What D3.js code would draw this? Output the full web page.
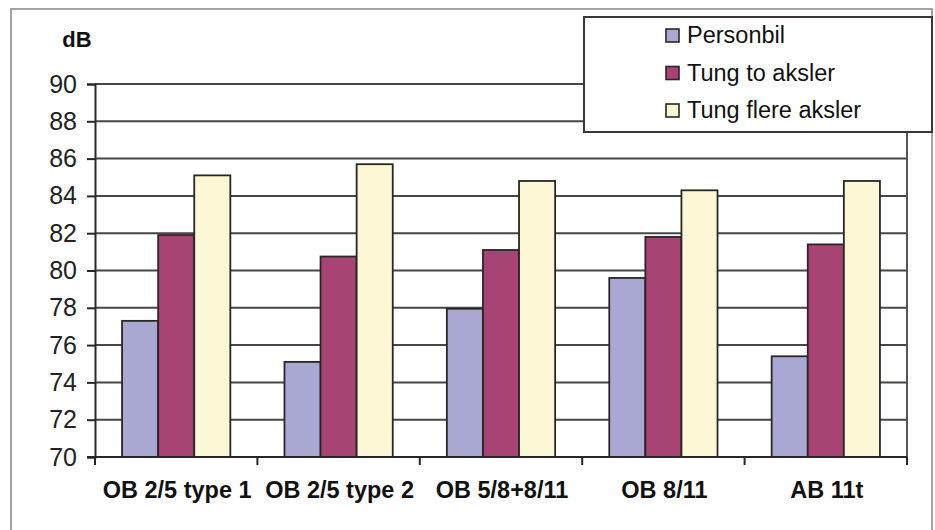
<!DOCTYPE html>
<html>
<head>
<meta charset="utf-8">
<script src="https://cdn.jsdelivr.net/npm/d3@7/dist/d3.min.js"></script>
<style>
  html, body { margin: 0; padding: 0; background: #fff; }
  svg { display: block; font-family: "Liberation Sans", Arial, sans-serif; }
</style>
</head>
<body>
<svg id="chart" width="935" height="530"></svg>
<script>
const categories = ["OB 2/5 type 1", "OB 2/5 type 2", "OB 5/8+8/11", "OB 8/11", "AB 11t"];
const seriesNames = ["Personbil", "Tung to aksler", "Tung flere aksler"];
const personbil = [77.3, 75.1, 77.95, 79.6, 75.4];
const tungTo = [81.9, 80.75, 81.1, 81.8, 81.4];
const tungFlere = [85.1, 85.7, 84.8, 84.3, 84.8];
const yTicks = [70, 72, 74, 76, 78, 80, 82, 84, 86, 88, 90];
const colors = ["#a9a8d3", "#a84474", "#fcf8d6"];

(function () {
const seriesValues = [personbil, tungTo, tungFlere];
const svg = d3.select("#chart");

// outer chart border
svg.append("rect").attr("x", 11).attr("y", 9).attr("width", 921).attr("height", 540)
  .attr("fill", "none").attr("stroke", "#8f8b8b").attr("stroke-width", 1.6);

const pLeft = 95, pRight = 907, pTop = 84, pBottom = 457;
const x = d3.scaleBand().domain(categories).range([pLeft, pRight]).paddingInner(0).paddingOuter(0);
const x1 = d3.scaleBand().domain(seriesNames).range([0, x.bandwidth()]).paddingInner(0).paddingOuter(0.75);
const y = d3.scaleLinear().domain([70, 90]).range([pBottom, pTop]);

// gridlines
svg.append("g").selectAll("line").data(yTicks.slice(1)).join("line")
  .attr("x1", pLeft).attr("x2", pRight)
  .attr("y1", d => y(d)).attr("y2", d => y(d))
  .attr("stroke", "#4a4545").attr("stroke-width", 2);

// right plot border
svg.append("line").attr("x1", pRight).attr("x2", pRight).attr("y1", pTop).attr("y2", pBottom)
  .attr("stroke", "#5a5555").attr("stroke-width", 2);

// bars
const groups = svg.append("g").selectAll("g").data(seriesNames).join("g")
  .attr("fill", (d, i) => colors[i]);
groups.each(function(s, si) {
  d3.select(this).selectAll("rect").data(categories).join("rect")
    .attr("x", c => x(c) + x1(s))
    .attr("width", x1.bandwidth())
    .attr("y", (c, ci) => y(seriesValues[si][ci]))
    .attr("height", (c, ci) => y(70) - y(seriesValues[si][ci]))
    .attr("stroke", "#2a2626").attr("stroke-width", 1.8);
});

// y axis
const yAxis = d3.axisLeft(y).tickValues(yTicks).tickSize(8).tickPadding(10).tickFormat(d3.format("d"));
const yg = svg.append("g").attr("transform", `translate(${pLeft},0)`).call(yAxis);
yg.select(".domain").attr("stroke", "#2a2626").attr("stroke-width", 2);
yg.selectAll(".tick line").attr("stroke", "#2a2626").attr("stroke-width", 2);
yg.selectAll(".tick text").attr("font-size", 25).attr("fill", "#222")
  .attr("font-family", "'Liberation Sans', Arial, sans-serif");

// x axis
const xg = svg.append("g").attr("transform", `translate(0,${pBottom})`);
xg.append("line").attr("x1", pLeft - 8).attr("x2", pRight).attr("y1", 0).attr("y2", 0)
  .attr("stroke", "#2a2626").attr("stroke-width", 2);
const boundaries = categories.map(c => x(c)).concat([pRight]);
xg.selectAll("line.tk").data(boundaries).join("line").attr("class", "tk")
  .attr("x1", d => d).attr("x2", d => d).attr("y1", 0).attr("y2", 8)
  .attr("stroke", "#2a2626").attr("stroke-width", 2);
xg.selectAll("text").data(categories).join("text")
  .attr("x", c => x(c) + x.bandwidth() / 2 + 1).attr("y", 41)
  .attr("text-anchor", "middle").attr("font-size", 23.5).attr("font-weight", "bold")
  .attr("fill", "#111").text(c => c);

// unit label
svg.append("text").attr("x", 77).attr("y", 47).attr("text-anchor", "middle")
  .attr("font-size", 22).attr("font-weight", "bold").attr("fill", "#111").text("dB");

// legend
const lg = svg.append("g");
lg.append("rect").attr("x", 584).attr("y", 17).attr("width", 348).attr("height", 115)
  .attr("fill", "#fff").attr("stroke", "#3a3535").attr("stroke-width", 2);
const items = lg.selectAll("g").data(seriesNames).join("g")
  .attr("transform", (d, i) => `translate(666,${35 + i * 37.5})`);
items.append("rect").attr("x", 0).attr("y", -6).attr("width", 13).attr("height", 13)
  .attr("fill", (d, i) => colors[i]).attr("stroke", "#2a2626").attr("stroke-width", 1.6);
items.append("text").attr("x", 21).attr("y", 8).attr("font-size", 23.5).attr("fill", "#111")
  .text(d => d);
})();
</script>
</body>
</html>
